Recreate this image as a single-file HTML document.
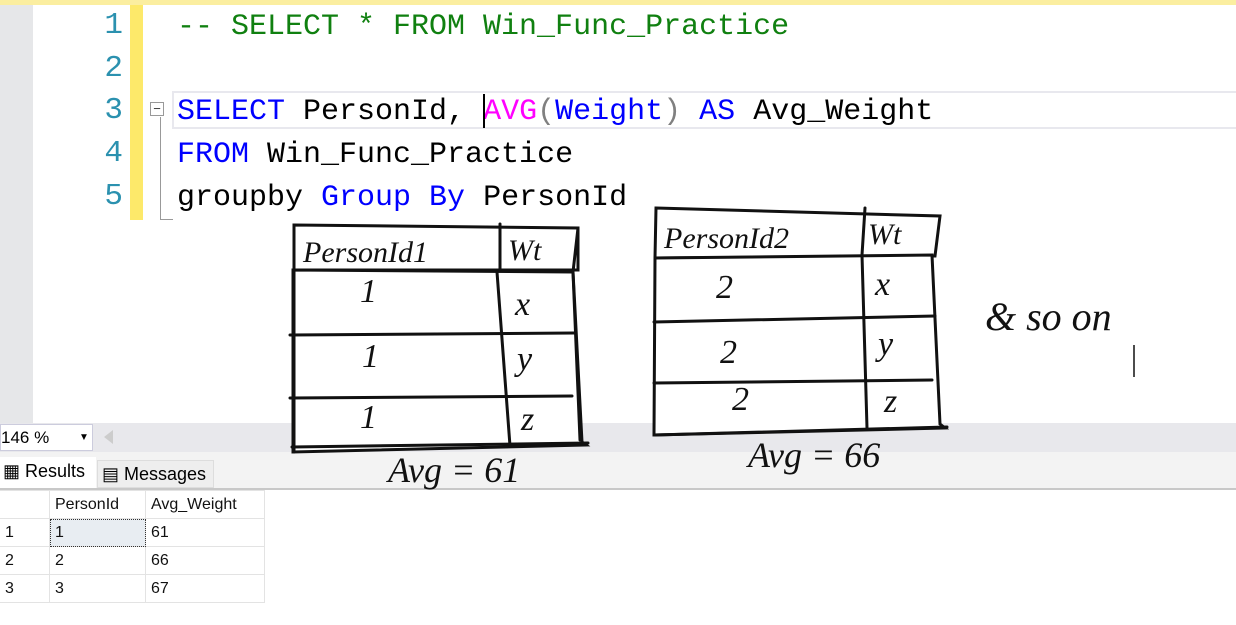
<!DOCTYPE html>
<html><head><meta charset="utf-8"><style>
body{margin:0;width:1236px;height:625px;overflow:hidden;background:#fff;position:relative;font-family:"Liberation Sans",sans-serif}
.a{position:absolute}
.code{font-family:"Liberation Mono",monospace;font-size:30px;white-space:pre;line-height:43px}
.ln{font-family:"Liberation Mono",monospace;font-size:31px;color:#2b91af;text-align:right;width:93px;left:30px}
.hw{font-family:"Liberation Serif",serif;font-style:italic;fill:#111}
.g td{border:1px solid #e3e3e3;height:27px;font-size:16px;padding:0 5px;color:#111}
</style></head><body>
<div class="a" style="left:0;top:0;width:1236px;height:5px;background:#fbeea0"></div>
<div class="a" style="left:0;top:5px;width:33px;height:418px;background:#e6e7e9"></div>
<div class="a" style="left:130px;top:5px;width:13px;height:215px;background:#fde96a"></div>
<div class="a ln" style="top:8px">1</div>
<div class="a ln" style="top:51px">2</div>
<div class="a ln" style="top:93px">3</div>
<div class="a ln" style="top:136px">4</div>
<div class="a ln" style="top:179px">5</div>
<div class="a" style="left:172px;top:91px;width:1064px;height:38px;border:2px solid #e8e8ee;border-right:none;box-sizing:border-box"></div>
<div class="a" style="left:150px;top:102px;width:14px;height:14px;border:1px solid #999;box-sizing:border-box;font-size:13px;line-height:11px;text-align:center;color:#333">−</div>
<div class="a" style="left:160px;top:117px;width:12px;height:102px;border-left:1px solid #999;border-bottom:1px solid #999"></div>
<div class="a code" style="left:177px;top:6px;color:#108010">-- SELECT * FROM Win_Func_Practice</div>
<div class="a code" style="left:177px;top:91px"><span style="color:#0000ff">SELECT</span> PersonId, <span style="color:#ff00ff">AVG</span><span style="color:#808080">(</span><span style="color:#0000ff">Weight</span><span style="color:#808080">)</span> <span style="color:#0000ff">AS</span> Avg_Weight</div>
<div class="a" style="left:483px;top:94px;width:2px;height:34px;background:#000"></div>
<div class="a code" style="left:177px;top:134px"><span style="color:#0000ff">FROM</span> Win_Func_Practice</div>
<div class="a code" style="left:177px;top:177px">groupby <span style="color:#0000ff">Group By</span> PersonId</div>
<div class="a" style="left:0;top:423px;width:1236px;height:29px;background:#e8e8ec"></div>
<div class="a" style="left:0;top:424px;width:93px;height:27px;background:#fff;border:1px solid #ccd;box-sizing:border-box;font-size:17px;line-height:25px">146 %<span style="position:absolute;left:78px;top:0;font-size:10px">▼</span></div>
<div class="a" style="left:104px;top:430px;width:0;height:0;border-top:7px solid transparent;border-bottom:7px solid transparent;border-right:9px solid #ccc"></div>
<div class="a" style="left:0;top:452px;width:1236px;height:36px;background:#f3f3f3"></div>
<div class="a" style="left:0;top:457px;width:96px;height:31px;background:#fff;font-size:18px;line-height:28px;padding-left:3px;box-sizing:border-box">▦ Results</div>
<div class="a" style="left:97px;top:460px;width:117px;height:28px;background:#eee;border:1px solid #ddd;box-sizing:border-box;font-size:18px;line-height:26px;padding-left:4px">▤ Messages</div>
<div class="a" style="left:0;top:488px;width:1236px;height:2px;background:#c8c8c8"></div>
<table class="a g" style="left:-1px;top:490px;border-collapse:collapse">
<tr><td style="width:39px"></td><td style="width:85px">PersonId</td><td style="width:108px">Avg_Weight</td></tr>
<tr><td>1</td><td style="background:#e8edf2;outline:1px dotted #333;outline-offset:-1px">1</td><td>61</td></tr>
<tr><td>2</td><td>2</td><td>66</td></tr>
<tr><td>3</td><td>3</td><td>67</td></tr>
</table>
<svg class="a" style="left:0;top:0" width="1236" height="625">
<g stroke="#111" stroke-width="3" fill="none" stroke-linecap="round">
<path d="M294 225 L578 228 L578 270 L294 270 Z" fill="#fff"/>
<path d="M293 270 L573 272 L582 442 L586 445 L293 452 Z" fill="#fff"/>
<path d="M294 225 L294 452 M578 228 L573 272 L580 440"/>
<path d="M500 224 L500 270 M497 272 L510 446"/>
<path d="M290 335 L574 333 M290 398 L572 396 M292 447 L588 443"/>
<path d="M656 208 L940 216 L935 256 L655 258 Z" fill="#fff"/>
<path d="M655 258 L932 255 L940 424 L945 428 L654 435 Z" fill="#fff"/>
<path d="M865 208 L862 255 L867 428"/>
<path d="M654 322 L935 316 M654 383 L932 380 M655 435 L947 427"/>
</g>
<g class="hw" font-size="34">
<text x="303" y="262" font-size="30">PersonId1</text><text x="508" y="260" font-size="30">Wt</text>
<text x="360" y="302">1</text><text x="515" y="315">x</text>
<text x="362" y="367">1</text><text x="517" y="370">y</text>
<text x="360" y="428">1</text><text x="521" y="430">z</text>
<text x="664" y="248" font-size="30">PersonId2</text><text x="868" y="244" font-size="30">Wt</text>
<text x="716" y="298">2</text><text x="875" y="295">x</text>
<text x="720" y="363">2</text><text x="878" y="355">y</text>
<text x="732" y="410">2</text><text x="884" y="412">z</text>
<text x="388" y="482" font-size="36">Avg = 61</text>
<text x="748" y="467" font-size="36">Avg = 66</text>
<text x="985" y="330" font-size="40">&amp; so on</text>
</g>
<line x1="1134" y1="345" x2="1134" y2="377" stroke="#111" stroke-width="1.5"/>
</svg>
</body></html>
